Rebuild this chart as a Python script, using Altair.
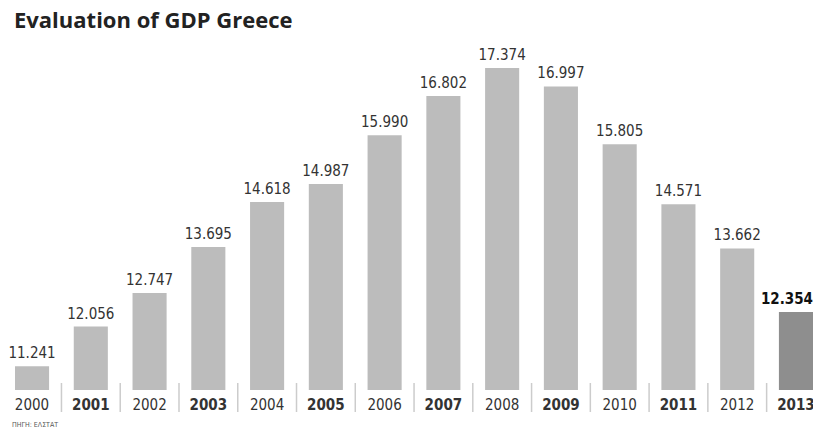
import altair as alt
import pandas as pd

years = ["2000", "2001", "2002", "2003", "2004", "2005", "2006",
         "2007", "2008", "2009", "2010", "2011", "2012", "2013"]
gdp = [11.241, 12.056, 12.747, 13.695, 14.618, 14.987, 15.990,
       16.802, 17.374, 16.997, 15.805, 14.571, 13.662, 12.354]
title_text = "Evaluation of GDP Greece"
source_text = "ΠΗΓΗ: ΕΛΣΤΑΤ"

W, H = 798, 346
Y_MIN, Y_MAX = 10.75, 17.87
df = pd.DataFrame({"year": years, "gdp": gdp})
df["label"] = [f"{v:.3f}" for v in gdp]

xscale = alt.Scale(paddingInner=0.42, paddingOuter=0, round=False)
yscale = alt.Scale(domain=[Y_MIN, Y_MAX], zero=False, nice=False)
FONT = "DejaVu Sans Condensed"

base = alt.Chart(df)

bars = base.mark_bar(clip=True).encode(
    x=alt.X("year:O", scale=xscale, sort=years,
            axis=alt.Axis(title=None, domain=False, ticks=False, labelAngle=0,
                          labelFontSize=15, labelFont=FONT,
                          labelColor="#333", labelPadding=7,
                          labelFontWeight=alt.condition("datum.value % 2 == 1",
                                                        alt.value("bold"), alt.value("normal")))),
    y=alt.Y("gdp:Q", scale=yscale, axis=None),
    y2=alt.datum(Y_MIN),
    color=alt.condition("datum.year == '2013'", alt.value("#8e8e8e"), alt.value("#bcbcbc")),
)

labels = base.transform_filter("datum.year != '2013'").mark_text(
    baseline="bottom", dy=-5, fontSize=15, color="#333", font=FONT).encode(
    x=alt.X("year:O", sort=years),
    y=alt.Y("gdp:Q", scale=yscale),
    text="label:N",
)

label_last = base.transform_filter("datum.year == '2013'").mark_text(
    baseline="bottom", dy=-5, dx=-9, fontSize=15, color="#111", fontWeight="bold",
    font=FONT).encode(
    x=alt.X("year:O", sort=years),
    y=alt.Y("gdp:Q", scale=yscale),
    text="label:N",
)

seps = base.transform_filter("datum.year != '2000'").mark_rule(
    color="#cccccc", strokeWidth=1.5).encode(
    x=alt.X("year:O", sort=years),
    xOffset=alt.value(-12.3),
    y=alt.value(H - 7),
    y2=alt.value(H + 22),
)

src = alt.Chart(pd.DataFrame({"t": [source_text]})).mark_text(
    align="left", baseline="middle", fontSize=7, color="#555",
    font=FONT).encode(
    x=alt.value(-3), y=alt.value(H + 35), text="t:N")

chart = alt.layer(bars, seps, labels, label_last, src).properties(
    width=W, height=H,
    title=alt.Title(title_text, anchor="start", frame="group", fontSize=22,
                    font="Open Sans", fontWeight="bold", color="#222",
                    offset=11, dx=-1),
    autosize=alt.AutoSizeParams(type="none"),
    padding={"left": 7, "top": 36, "right": 0, "bottom": 40},
).configure_view(stroke=None)

chart.save("out.html", embed_options={"renderer": "svg", "actions": False})
